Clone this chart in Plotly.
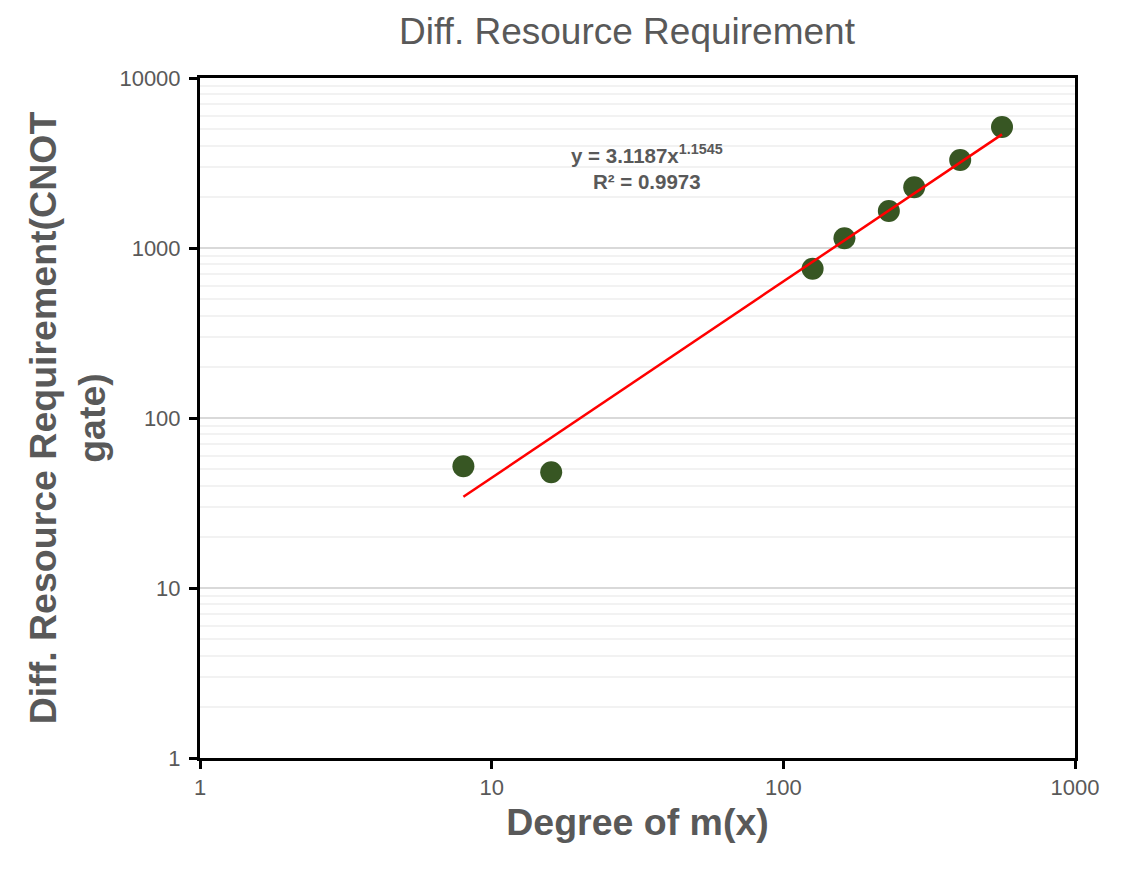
import numpy as np
import plotly.graph_objects as go

# Data
degree = [8, 16, 126, 162, 230, 281, 404, 562]
cnot = [52, 48, 755, 1140, 1650, 2275, 3293, 5150]

# Power trendline coefficients (as shown on the chart)
trend_a = 3.1187
trend_b = 1.1545
r_squared = 0.9973

x_ticks = [1, 10, 100, 1000]
y_ticks = [1, 10, 100, 1000, 10000]

trend_x = np.array([min(degree), max(degree)], dtype=float)
trend_y = trend_a * trend_x ** trend_b

grey = "#595959"
font_family = "Liberation Sans, Arial, sans-serif"

# page body has an 8px default margin; figure is sized to fit the window
W, H = 1138, 861

fig = go.Figure()
fig.add_trace(go.Scatter(
    x=degree, y=cnot, mode="markers",
    marker=dict(size=22, color="#375623"),
    showlegend=False,
))
fig.add_trace(go.Scatter(
    x=trend_x, y=trend_y, mode="lines",
    line=dict(color="#ff0000", width=2.5),
    showlegend=False,
))

fig.add_annotation(
    xref="paper", yref="paper", x=0.511, y=0.910,
    text=f"<b>y = {trend_a}x<sup>{trend_b}</sup><br>R² = {r_squared}</b>",
    showarrow=False, align="center",
    font=dict(family=font_family, size=20.5, color=grey),
)

fig.update_layout(
    width=W, height=H,
    margin=dict(l=192, r=71, t=70, b=111),
    paper_bgcolor="white", plot_bgcolor="white",
    font=dict(family=font_family, color=grey),
    title=dict(
        text="Diff. Resource Requirement",
        x=(627 - 8) / W, xref="container", xanchor="center",
        y=1 - (31 - 8) / H, yref="container", yanchor="middle",
        font=dict(size=37, color=grey, family=font_family),
    ),
)

fig.update_xaxes(
    type="log", range=[0, 3],
    tickvals=x_ticks, ticktext=[str(v) for v in x_ticks],
    showgrid=False, zeroline=False,
    showline=True, linecolor="black", linewidth=3, mirror=True,
    ticks="outside", ticklen=8, tickwidth=3, tickcolor="black",
    tickfont=dict(size=22, color=grey),
    title=dict(text="<b>Degree of m(x)</b>", font=dict(size=37.5, color=grey), standoff=10),
)
fig.update_yaxes(
    type="log", range=[0, 4],
    tickvals=y_ticks, ticktext=[str(v) for v in y_ticks],
    showgrid=True, gridcolor="#d9d9d9", gridwidth=1.5,
    minor=dict(showgrid=True, gridcolor="#f2f2f2", gridwidth=1.5, dtick="D1"),
    zeroline=False,
    showline=True, linecolor="black", linewidth=3, mirror=True,
    ticks="outside", ticklen=8, tickwidth=3, tickcolor="black",
    tickfont=dict(size=22, color=grey),
    ticklabelstandoff=4,
    title=dict(text="<b>Diff. Resource Requirement(CNOT<br>gate)</b>",
               font=dict(size=37.5, color=grey), standoff=3),
)

fig.write_html("out.html")
